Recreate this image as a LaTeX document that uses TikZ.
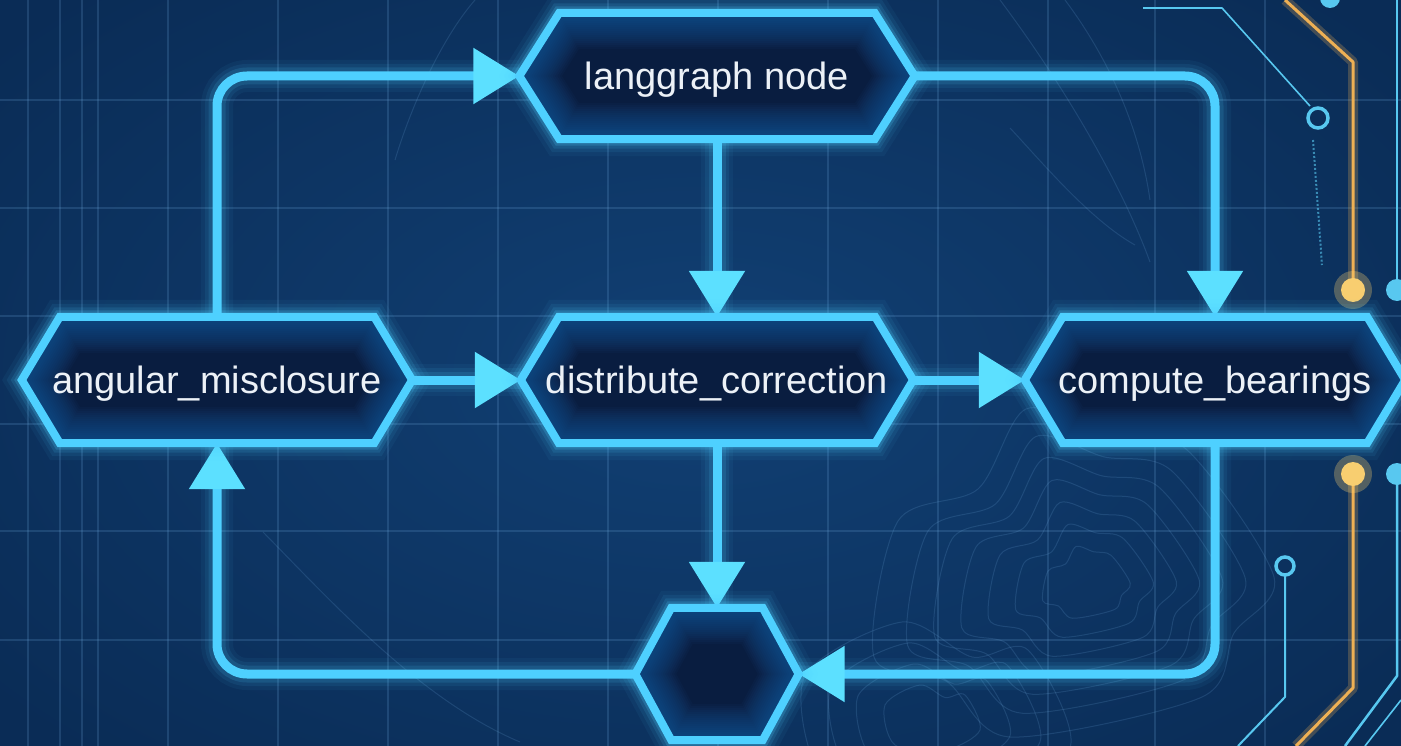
\documentclass[tikz,border=0pt]{standalone}
\usepackage{fontspec}
\setmainfont{Liberation Sans}
\usetikzlibrary{arrows.meta,calc}

\pgfdeclarelayer{base}
\pgfdeclarelayer{wires}
\pgfdeclarelayer{plates}
\pgfsetlayers{base,wires,plates,main}

\definecolor{bgmid}{RGB}{17,64,116}
\definecolor{bgedge}{RGB}{10,44,86}
\definecolor{neon}{RGB}{78,208,255}
\definecolor{neontip}{RGB}{92,224,255}
\definecolor{plate}{RGB}{9,29,64}
\definecolor{innerglow}{RGB}{30,100,172}
\definecolor{gridc}{RGB}{110,168,220}
\definecolor{amber}{RGB}{238,176,84}
\definecolor{amberdot}{RGB}{248,206,112}
\definecolor{trace}{RGB}{88,200,240}
\definecolor{labelc}{RGB}{236,241,247}

\tikzset{
  hexnode/.style={rectangle, inner sep=0pt, minimum height=126pt,
    text depth=0pt, text=labelc, font=\fontsize{38}{44}\selectfont},
  gridline/.style={gridc, opacity=0.2, line width=1.2pt},
  contour/.style={gridc, opacity=0.18, line width=1pt},
  tracewire/.style={trace, line width=2.5pt, line join=round},
  amberwire/.style={amber, line width=3pt, line join=round},
  wirecore/.style={neon, line width=9pt, rounded corners=30pt,
    -{Triangle[length=46pt,width=54pt,color=neontip]}},
}

% hexagonal outline spanned by a rectangular node, #2 = depth of the side points
\newcommand\hexoutline[2]{(#1.west) -- ($(#1.north west)+(#2,0)$) -- ($(#1.north east)+(-#2,0)$) -- (#1.east) -- ($(#1.south east)+(-#2,0)$) -- ($(#1.south west)+(#2,0)$) -- cycle}

% glowing hexagonal plate behind a node
\newcommand\hexplate[2]{%
  \begin{pgfonlayer}{plates}
    \foreach \w/\o in {34/0.05,26/0.08,19/0.12,13/0.2}{%
      \draw[neon, opacity=\o, line width=\w pt, line join=miter] \hexoutline{#1}{#2};}
    \fill[plate] \hexoutline{#1}{#2};
    \begin{scope}
      \clip \hexoutline{#1}{#2};
      \foreach \w in {4,8,...,72}{%
        \draw[innerglow, opacity=0.055, line width=\w pt, line join=miter] \hexoutline{#1}{#2};}
    \end{scope}
    \draw[neon, line width=8pt, line join=miter] \hexoutline{#1}{#2};
  \end{pgfonlayer}}

% glowing connector with an arrow head
\newcommand\wire[1]{%
  \begin{pgfonlayer}{wires}
    \foreach \w/\o in {32/0.05,24/0.08,17/0.13}{%
      \draw[neon, opacity=\o, line width=\w pt, rounded corners=30pt] #1;}
    \draw[wirecore] #1;
  \end{pgfonlayer}}

\begin{document}
\begin{tikzpicture}[x=1pt, y=-1pt]
\useasboundingbox (0,0) rectangle (1401,746);

% ---------- backdrop ----------
\begin{pgfonlayer}{base}
  \begin{scope}
  \clip (0,0) rectangle (1401,746);
  \shade[inner color=bgmid, outer color=bgedge] (-200,-150) rectangle (1601,896);
  % blueprint grid
  \foreach \x in {28,60,82,98,168,278,388,498,608,718,828,938,1048,1155,1265}{
    \draw[gridline] (\x,0) -- (\x,746);}
  \foreach \y in {100,208,316,424,531,640}{
    \draw[gridline] (0,\y) -- (1401,\y);}
  % faint survey curves
  \draw[contour] (475,0) .. controls (440,40) and (410,110) .. (395,160);
  \draw[contour] (263,532) .. controls (330,600) and (420,700) .. (520,742);
  \draw[contour] (1000,0) .. controls (1060,80) and (1120,180) .. (1150,262);
  \draw[contour] (1010,128) .. controls (1040,160) and (1090,220) .. (1135,245);
  \draw[contour] (1065,0) .. controls (1110,60) and (1140,130) .. (1150,200);
  % terrain contours
  \foreach \s in {0.35,0.55,0.75,0.95,1.15,1.35,1.6}{
    \draw[contour, shift={(1090,585)}, scale=\s]
      plot[smooth cycle] coordinates {(-120,-40) (-70,-60) (-40,-110) (10,-95) (60,-85) (115,-5) (90,30) (70,70) (-50,95) (-90,60) (-135,45)};}
  \foreach \s in {0.5,0.8,1.1,1.4}{
    \draw[contour, shift={(930,720)}, scale=\s]
      plot[smooth cycle] coordinates {(-90,-30) (-20,-70) (30,-45) (70,-50) (100,20) (30,60) (-70,50)};}
  % circuit traces on the right
  \draw[amber, opacity=0.25, line width=10pt, line join=round] (1285,0) -- (1353,62) -- (1353,288);
  \draw[amberwire] (1285,0) -- (1353,62) -- (1353,288);
  \draw[amber, opacity=0.25, line width=10pt, line join=round] (1353,474) -- (1353,688) -- (1296,746);
  \draw[amberwire] (1353,474) -- (1353,688) -- (1296,746);
  \fill[amberdot, opacity=0.3] (1353,290) circle (19);
  \fill[amberdot] (1353,290) circle (12);
  \fill[amberdot, opacity=0.3] (1353,474) circle (19);
  \fill[amberdot] (1353,474) circle (12);
  \draw[tracewire] (1397,0) -- (1397,288);
  \fill[trace] (1397,290) circle (11);
  \fill[trace] (1397,474) circle (11);
  \draw[tracewire] (1397,474) -- (1397,676) -- (1345,746);
  \draw[tracewire, line width=1.6pt] (1401,700) -- (1365,746);
  \fill[trace] (1330,-2) circle (10);
  \draw[tracewire, line width=1.6pt] (1143,8) -- (1222,8) -- (1310,106);
  \draw[trace, line width=3.5pt] (1318,118) circle (10);
  \draw[trace, dotted, line width=2pt, opacity=0.6] (1313,140) -- (1322,265);
  \draw[tracewire, line width=2pt] (1285,576) -- (1285,697) -- (1238,746);
  \draw[trace, line width=3.5pt] (1285,566) circle (9);
  \end{scope}
\end{pgfonlayer}

% ---------- nodes ----------
\node[hexnode, minimum width=395pt] (lg) at (717,76) {langgraph node};
\node[hexnode, minimum width=390pt] (am) at (217,380) {angular\_misclosure};
\node[hexnode, minimum width=392pt] (dc) at (717,380) {distribute\_correction};
\node[hexnode, minimum width=380pt] (cb) at (1215,380) {compute\_bearings};
\node[hexnode, minimum width=163pt, minimum height=132pt] (end) at (717,674) {};

\hexplate{lg}{40}
\hexplate{am}{38}
\hexplate{dc}{38}
\hexplate{cb}{38}
\hexplate{end}{36}

% ---------- connectors ----------
\wire{(am.north) |- (lg.west)}
\wire{(lg.east) -| (cb.north)}
\wire{(lg.south) -- (dc.north)}
\wire{(am.east) -- (dc.west)}
\wire{(dc.east) -- (cb.west)}
\wire{(dc.south) -- (end.north)}
\wire{(cb.south) |- (end.east)}
\wire{(end.west) -| (am.south)}
\end{tikzpicture}
\end{document}
